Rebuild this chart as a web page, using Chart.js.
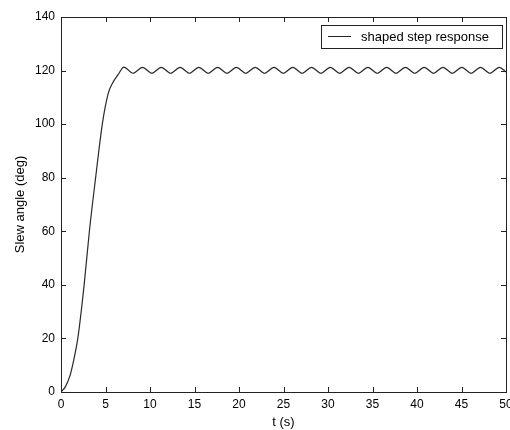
<!DOCTYPE html>
<html>
<head>
<meta charset="utf-8">
<script src="https://cdn.jsdelivr.net/npm/chart.js@4/dist/chart.umd.min.js"></script>
<style>
  html, body { margin: 0; padding: 0; background: #fff; }
  #slew-chart { display: block; }
</style>
</head>
<body>
<canvas id="slew-chart" width="510" height="430"></canvas>
<script>
// values
const seriesLabel = 'shaped step response';
const timeSec = [
  0, 0.5, 1.0, 1.35, 1.9, 2.6, 3.2, 3.9, 4.65, 5.3, 5.77, 6.5, 7.05,
  8.1, 9.16, 10.21, 11.27, 12.32, 13.38, 14.43, 15.49, 16.54, 17.6,
  18.65, 19.71, 20.76, 21.82, 22.87, 23.93, 24.98, 26.04, 27.09, 28.15,
  29.2, 30.26, 31.31, 32.37, 33.42, 34.48, 35.53, 36.59, 37.64, 38.7,
  39.75, 40.81, 41.86, 42.92, 43.97, 45.03, 46.08, 47.14, 48.19, 49.25, 50
];
const slewAngle = [
  0, 2, 6, 10.7, 20.3, 40, 60.4, 80.3, 100.2, 111.4, 115.2, 118.9, 121.3,
  119.0, 121.2, 119.0, 121.2, 119.0, 121.2, 119.0, 121.2, 119.0, 121.2,
  119.0, 121.2, 119.0, 121.2, 119.0, 121.2, 119.0, 121.2, 119.0, 121.2,
  119.0, 121.2, 119.0, 121.2, 119.0, 121.2, 119.0, 121.2, 119.0, 121.2,
  119.0, 121.2, 119.0, 121.2, 119.0, 121.2, 119.0, 121.2, 119.0, 121.2, 119.5
];
const xTicks = [0, 5, 10, 15, 20, 25, 30, 35, 40, 45, 50];
const yTicks = [0, 20, 40, 60, 80, 100, 120, 140];

const points = timeSec.map((t, i) => ({ x: t, y: slewAngle[i] }));

// box, inward tick marks and in-plot legend, matlab style
const matlabFrame = {
  id: 'matlabFrame',
  afterDatasetsDraw(chart) {
    const ctx = chart.ctx;
    const a = chart.chartArea;
    const xs = chart.scales.x;
    const ys = chart.scales.y;
    ctx.save();
    ctx.strokeStyle = '#222';
    ctx.lineWidth = 1;
    ctx.beginPath();
    xTicks.forEach((v) => {
      const px = Math.round(xs.getPixelForValue(v)) + 0.5;
      ctx.moveTo(px, a.bottom); ctx.lineTo(px, a.bottom - 5);
      ctx.moveTo(px, a.top); ctx.lineTo(px, a.top + 5);
    });
    yTicks.forEach((v) => {
      const py = Math.round(ys.getPixelForValue(v)) + 0.5;
      ctx.moveTo(a.left, py); ctx.lineTo(a.left + 5, py);
      ctx.moveTo(a.right, py); ctx.lineTo(a.right - 5, py);
    });
    ctx.stroke();
    ctx.strokeRect(Math.round(a.left) + 0.5, Math.round(a.top) + 0.5,
      Math.round(a.right - a.left), Math.round(a.bottom - a.top));

    // legend box
    const lx = 321.5, ly = 25.5, lw = 181, lh = 23;
    ctx.fillStyle = '#fff';
    ctx.fillRect(lx, ly, lw, lh);
    ctx.strokeRect(lx, ly, lw, lh);
    ctx.beginPath();
    ctx.moveTo(328, 36.5); ctx.lineTo(351, 36.5);
    ctx.stroke();
    ctx.fillStyle = '#000';
    ctx.font = '13px "Liberation Sans", Arial, sans-serif';
    ctx.textBaseline = 'middle';
    ctx.fillText(chart.data.datasets[0].label, 361, 37);
    ctx.restore();
  }
};

new Chart(document.getElementById('slew-chart'), {
  type: 'line',
  data: {
    datasets: [{
      label: seriesLabel,
      data: points,
      borderColor: '#2a2a2a',
      borderWidth: 1.2,
      pointRadius: 0,
      fill: false,
      cubicInterpolationMode: 'monotone'
    }]
  },
  options: {
    responsive: false,
    animation: false,
    devicePixelRatio: 1,
    layout: { padding: { left: 0, right: 4, top: 17, bottom: 0 } },
    plugins: {
      legend: { display: false },
      tooltip: { enabled: false }
    },
    scales: {
      x: {
        type: 'linear',
        min: 0,
        max: 50,
        afterBuildTicks: (s) => { s.ticks = xTicks.map((v) => ({ value: v })); },
        afterFit: (s) => { s.height = 38; s.paddingLeft = 0; s.paddingRight = 0; },
        grid: { display: false, drawTicks: false },
        border: { display: false },
        ticks: {
          color: '#000',
          padding: 5,
          maxRotation: 0,
          font: { family: '"Liberation Sans", Arial, sans-serif', size: 12 }
        },
        title: {
          display: true,
          text: 't (s)',
          color: '#000',
          padding: { top: 0, bottom: 0 },
          font: { family: '"Liberation Sans", Arial, sans-serif', size: 13 }
        }
      },
      y: {
        type: 'linear',
        min: 0,
        max: 140,
        afterBuildTicks: (s) => { s.ticks = yTicks.map((v) => ({ value: v })); },
        afterFit: (s) => { s.width = 61; s.paddingTop = 0; s.paddingBottom = 0; },
        grid: { display: false, drawTicks: false },
        border: { display: false },
        ticks: {
          color: '#000',
          padding: 6,
          font: { family: '"Liberation Sans", Arial, sans-serif', size: 12 }
        },
        title: {
          display: true,
          text: 'Slew angle (deg)',
          color: '#000',
          padding: { top: 13, bottom: 0 },
          font: { family: '"Liberation Sans", Arial, sans-serif', size: 13 }
        }
      }
    }
  },
  plugins: [matlabFrame]
});
</script>
</body>
</html>
